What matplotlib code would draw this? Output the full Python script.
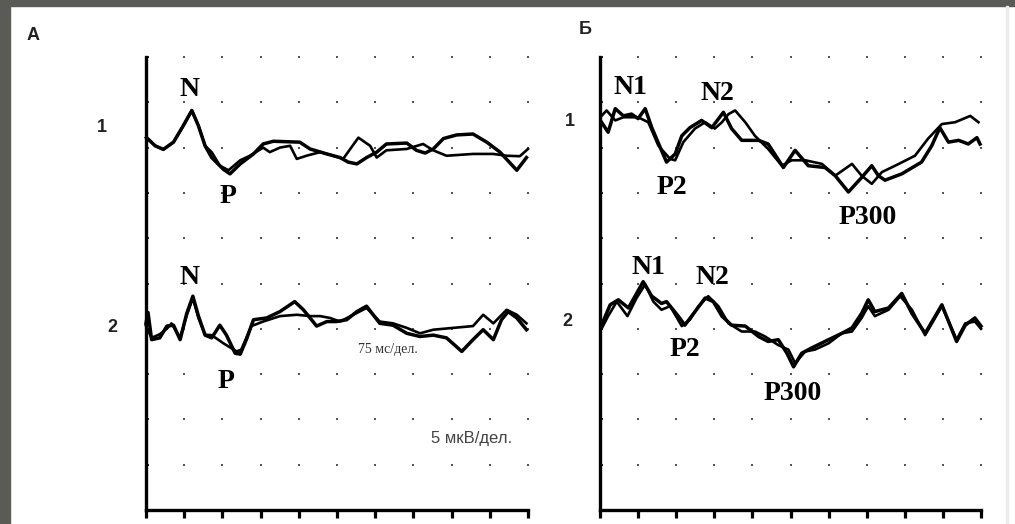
import matplotlib
matplotlib.use("Agg")
import numpy as np
import matplotlib.pyplot as plt
from matplotlib.patches import Rectangle

# time axis 75 ms/div, amplitude 5 uV/div
ms_ticks = np.arange(0, 751, 75)
uv_rows = np.arange(5, 51, 5)
row_offset = [40, 20]          # baseline of record 1 and 2 (uV on the axis)

# panel A, record 1
a1_start_t = [1, 18, 34, 54, 73, 90, 103, 116]
a1_start_v = [1.1, 0.2, -0.2, 0.6, 2.4, 4.1, 2.4, 0.2]
a1a_t = a1_start_t + [129, 152, 165, 185, 211, 230, 250, 302, 322, 355, 381, 397, 414, 433, 453,
                      472, 512, 531, 548, 564, 584, 610, 642, 669, 695, 728, 747]
a1a_v = a1_start_v + [-1.1, -2.4, -2.9, -1.8, -0.7, 0.4, 0.7, 0.6, -0.15, -0.7, -1.1, -1.6, -1.8, -1.1, -0.5,
                      0.4, 0.5, -0.3, -0.6, -0.15, 1.0, 1.4, 1.5, 0.6, -0.5, -2.5, -1.1]
a1b_t = a1_start_t + [129, 145, 162, 185, 204, 230, 243, 263, 283, 296, 315, 342, 368, 387, 417,
                      440, 453, 472, 512, 544, 564, 590, 642, 682, 708, 734, 750]
a1b_v = a1_start_v + [-0.5, -2.0, -2.5, -1.4, -0.9, 0.0, -0.5, 0.0, 0.2, -1.25, -0.9, -0.5, -0.9, -1.25, 1.1,
                      0.2, -1.1, -0.3, -0.15, 0.4, -0.3, -0.9, -0.7, -0.7, -0.9, -0.95, -0.15]

# panel A, record 2
a2a_t = [0, 4, 11, 27, 41, 54, 67, 80, 92, 103, 116, 129, 145, 158, 175, 185, 197, 211, 237, 263, 292,
         309, 335, 355, 374, 394, 414, 433, 459, 485, 512, 538, 564, 590, 620, 642, 662, 682, 698, 711,
         728, 747]
a2a_v = [0.6, 1.8, -1.2, -1.0, 0.3, 0.4, -1.2, 1.7, 3.6, 1.4, -0.7, -1.0, 0.4, -0.7, -2.7, -2.8, -1.2,
         1.0, 1.2, 1.9, 3.0, 2.1, 0.3, 0.8, 0.8, 1.0, 1.9, 2.5, 0.6, 0.4, -0.5, -0.85, -0.7, -1.0, -2.5,
         -1.2, -0.1, -1.2, 1.0, 1.9, 1.2, -0.1]
a2b_t = [0, 11, 27, 41, 50, 67, 80, 92, 103, 116, 129, 152, 178, 187, 207, 230, 263, 296, 322, 342,
         361, 381, 407, 433, 459, 485, 512, 538, 564, 603, 642, 662, 682, 708, 728, 747]
a2b_v = [0.3, -1.0, -0.6, 0.0, 0.6, -1.0, 1.5, 3.4, 1.2, -0.66, -0.7, -1.6, -2.5, -2.3, 0.3, 0.8, 1.4,
         1.55, 1.4, 1.4, 1.2, 0.8, 1.55, 2.3, 0.8, 0.6, 0.1, -0.5, -0.1, 0.1, 0.3, 1.55, 0.6, 2.1, 1.55, 0.6]

# panel B, record 1
b1a_t = [3, 16, 30, 46, 62, 75, 89, 102, 121, 131, 148, 161, 177, 200, 220, 243, 259, 279, 312, 331,
         361, 384, 410, 443, 463, 489, 515, 535, 548, 561, 594, 633, 653, 669, 686, 706, 725, 742, 748]
b1a_v = [2.8, 1.7, 4.3, 3.5, 3.7, 3.2, 4.3, 2.2, -0.3, -1.6, -0.7, 1.3, 2.2, 3.0, 2.2, 3.9, 2.1, 0.8,
         0.8, 0.4, -2.2, -0.3, -2.0, -2.2, -3.1, -4.9, -3.3, -2.0, -3.1, -3.6, -2.9, -1.6, 0.2, 2.2, 0.6,
         0.8, 0.4, 1.1, 0.4]
b1b_t = [3, 13, 30, 46, 75, 95, 115, 138, 148, 164, 187, 207, 226, 240, 253, 266, 286, 305, 331, 358,
         377, 404, 437, 463, 496, 515, 535, 555, 581, 620, 646, 673, 699, 729, 745]
b1b_v = [3.5, 4.1, 3.0, 3.35, 3.35, 2.8, 0.2, -1.25, -1.4, 0.6, 2.1, 2.8, 2.1, 2.8, 3.7, 4.1, 2.8, 1.3,
         -0.15, -2.0, -1.4, -1.4, -1.8, -3.1, -1.8, -3.1, -4.0, -2.7, -2.0, -0.9, 1.0, 2.6, 2.8, 3.5, 2.8]

# panel B, record 2
b2a_t = [3, 20, 36, 56, 72, 85, 102, 121, 131, 154, 167, 187, 207, 223, 240, 259, 286, 312, 331, 351,
         368, 381, 397, 417, 450, 476, 496, 515, 528, 541, 568, 594, 614, 640, 673, 702, 719, 738, 750]
b2a_v = [0.4, 2.65, 3.2, 2.3, 3.9, 5.2, 3.6, 2.8, 3.0, 1.4, 0.4, 1.9, 3.4, 3.0, 1.4, 0.4, 0.3, -0.85,
         -1.4, -1.2, -2.7, -4.2, -2.7, -2.1, -1.2, -0.5, 0.1, 1.7, 3.2, 1.9, 2.3, 3.9, 1.7, -0.5, 2.65,
         -1.4, 0.4, 1.2, 0.3]
b2b_t = [3, 16, 33, 54, 72, 89, 105, 121, 138, 161, 177, 194, 213, 233, 253, 279, 305, 325, 351, 371,
         384, 404, 423, 450, 476, 496, 515, 528, 541, 568, 591, 614, 640, 673, 702, 719, 738, 750]
b2b_v = [0.0, 1.4, 3.0, 1.4, 3.4, 4.9, 3.0, 2.1, 2.5, 0.3, 1.0, 2.5, 3.6, 2.5, 0.6, -0.3, -0.3, -0.85,
         -1.8, -2.3, -3.8, -2.5, -2.3, -1.6, -0.5, -0.3, 1.2, 2.5, 1.4, 2.1, 3.6, 2.1, -0.7, 2.5, -1.2,
         0.6, 0.8, 0.0]

W, H = 1015, 524
fig = plt.figure(figsize=(W / 100, H / 100), dpi=100)
fig.patch.set_facecolor('white')

def fx(px):
    return px / W

def fy(py):
    return 1 - py / H

# grey frame of the scanned figure
fig.patches.append(Rectangle((0, 0), fx(10), 1, transform=fig.transFigure, color='#5b5b55', zorder=0))
fig.patches.append(Rectangle((0, fy(6)), 1, 6 / H, transform=fig.transFigure, color='#5b5b55', zorder=0))
fig.patches.append(Rectangle((fx(1006), 0), 2 / W, fy(6), transform=fig.transFigure, color='#ececec', zorder=0))

panels = [
    (146, 382, [(a1a_t, a1a_v, a1b_t, a1b_v), (a2a_t, a2a_v, a2b_t, a2b_v)]),
    (600, 381, [(b1a_t, b1a_v, b1b_t, b1b_v), (b2a_t, b2a_v, b2b_t, b2b_v)]),
]

for left, width, records in panels:
    ax = fig.add_axes([fx(left), fy(510), width / W, 453 / H])
    ax.set_xlim(0, 750)
    ax.set_ylim(0, 50)
    ax.patch.set_alpha(0)
    gx, gy = np.meshgrid(ms_ticks[1:], uv_rows)
    ax.scatter(gx.ravel(), gy.ravel(), s=3, marker='s', color='#555555', lw=0, zorder=1, clip_on=False)
    for off, (ta, va, tb, vb) in zip(row_offset, records):
        ax.plot(ta, off + np.array(va), color='black', lw=2.5, zorder=3, clip_on=False,
                solid_joinstyle='round')
        ax.plot(tb, off + np.array(vb), color='black', lw=1.9, zorder=3, clip_on=False,
                solid_joinstyle='round')
    for s in ['top', 'right']:
        ax.spines[s].set_visible(False)
    for s in ['left', 'bottom']:
        ax.spines[s].set_linewidth(2.4)
    ax.set_xticks(ms_ticks)
    ax.set_yticks(uv_rows)
    ax.tick_params(axis='x', direction='out', length=6, width=2.3, labelbottom=False)
    ax.tick_params(axis='y', direction='in', length=2, width=1.2, labelleft=False)

sans = dict(family='Liberation Sans', color='#222222', ha='center', va='center', fontweight='bold')
fig.text(fx(33), fy(35), 'А', fontsize=13, **sans)
fig.text(fx(585), fy(29), 'Б', fontsize=13, **sans)
fig.text(fx(102), fy(128), '1', fontsize=13, **sans)
fig.text(fx(112), fy(328), '2', fontsize=13, **sans)
fig.text(fx(570), fy(121), '1', fontsize=13, **sans)
fig.text(fx(567), fy(321), '2', fontsize=13, **sans)

serif = dict(family='Liberation Serif', fontweight='bold', fontsize=20, color='black', ha='center', va='center')
peaks = [('N', 190, 90), ('P', 228, 196), ('N', 190, 278), ('P', 226, 381),
         ('N1', 630, 87), ('N2', 717, 93), ('P2', 672, 187), ('P300', 868, 218),
         ('N1', 648, 268), ('N2', 712, 277), ('P2', 685, 349), ('P300', 793, 393)]
for lab, px, py in peaks:
    fig.text(fx(px), fy(py), lab, **serif)

fig.text(fx(388), fy(350), '75 мс/дел.', family='Liberation Serif', fontsize=10,
         color='#333333', ha='center', va='center')
fig.text(fx(472), fy(438), '5 мкВ/дел.', family='Liberation Sans', fontsize=12,
         color='#444444', ha='center', va='center')

fig.savefig('out.png', dpi=100)
